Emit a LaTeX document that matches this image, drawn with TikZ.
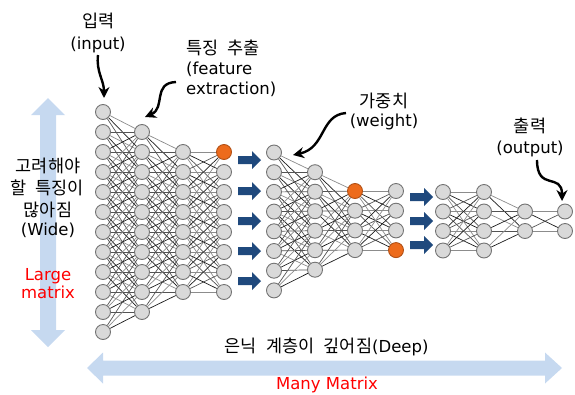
\documentclass[tikz,border=0pt]{standalone}
\usepackage{fontspec}
\setmainfont{DejaVu Sans}
\newfontfamily\kr[WordSpace=2.4]{Noto Sans CJK KR}
\usetikzlibrary{arrows.meta}
\definecolor{nodefill}{RGB}{217,217,217}
\definecolor{nodeline}{RGB}{115,115,115}
\definecolor{orng}{RGB}{237,107,28}
\definecolor{navy}{RGB}{31,73,125}
\definecolor{lightblue}{RGB}{198,217,240}
\pgfdeclarelayer{bg}
\pgfsetlayers{bg,main}
\newcommand\mklayer[6]{% name, x, y0, step, n, hot index
  \foreach \k in {1,...,#5}{%
    \ifnum\k=#6\relax\def\sty{hot}\else\def\sty{neuron}\fi
    \node[\sty] (#1\k) at (#2,{#3+#4*(\k-1)}) {};}}
\newcommand\linklayers[8]{% L, nL, y0L, sL, R, nR, y0R, sR
  \begin{pgfonlayer}{bg}
  \foreach \i in {1,...,#2}{%
    \foreach \j in {1,...,#6}{%
      \pgfmathtruncatemacro\near{abs((#3+#4*(\i-1))-(#7+#8*(\j-1)))<63 ? 1 : 0}%
      \pgfmathtruncatemacro\dk{45+22*mod(\i+2*\j,3)}%
      \ifnum\near=1 \draw[wire,draw=black!\dk] (#1\i) -- (#5\j);\fi
    }}
  \end{pgfonlayer}}
\begin{document}
\begin{tikzpicture}[x=1pt,y=-1pt,
  neuron/.style={circle,draw=nodeline,fill=nodefill,line width=0.9pt,minimum size=15pt,inner sep=0pt},
  hot/.style={neuron,fill=orng,draw=orng!75!black},
  wire/.style={line width=0.7pt},
  lbl/.style={anchor=base,inner sep=0pt,font=\fontsize{16.5}{20}\selectfont},
  klbl/.style={anchor=base,inner sep=0pt,font=\kr\fontsize{17.5}{20}\selectfont},
  callout/.style={line width=2.4pt,-{Stealth[length=11pt,width=11pt]}},
  barrow/.pic={\fill[navy] (0,-4) -- (14,-4) -- (14,-9) -- (23,0) -- (14,9) -- (14,4) -- (0,4) -- cycle;},
  ]
\useasboundingbox (0,0) rectangle (575,394);

% big light-blue arrows
\fill[lightblue] (48,98) -- (65,115) -- (56,115) -- (56,330) -- (65,330) -- (48,347)
  -- (31,330) -- (40,330) -- (40,115) -- (31,115) -- cycle;
\fill[lightblue] (87,368) -- (103,352.5) -- (103,360.5) -- (545,360.5) -- (545,352.5)
  -- (562,368) -- (545,383.5) -- (545,375.5) -- (103,375.5) -- (103,383.5) -- cycle;

% block 1
\mklayer{A}{103}{112}{20}{12}{0}
\mklayer{B}{142}{132}{20}{10}{0}
\mklayer{C}{183}{152}{20}{8}{0}
\mklayer{D}{224}{152}{20}{8}{1}
\linklayers{A}{12}{112}{20}{B}{10}{132}{20}
\linklayers{B}{10}{132}{20}{C}{8}{152}{20}
\linklayers{C}{8}{152}{20}{D}{8}{152}{20}

% block 2
\mklayer{E}{274}{152.5}{19.7}{8}{0}
\mklayer{F}{315}{172.2}{19.5}{6}{0}
\mklayer{G}{355}{191}{19.7}{4}{1}
\mklayer{H}{396}{191}{19.7}{4}{4}
\linklayers{E}{8}{152.5}{19.7}{F}{6}{172.2}{19.5}
\linklayers{F}{6}{172.2}{19.5}{G}{4}{191}{19.7}
\linklayers{G}{4}{191}{19.7}{H}{4}{191}{19.7}

% block 3
\mklayer{I}{443}{192}{19.5}{4}{0}
\mklayer{J}{484}{192}{19.5}{4}{0}
\mklayer{K}{525}{211.5}{19.5}{2}{0}
\mklayer{L}{565}{211.5}{19.5}{2}{0}
\linklayers{I}{4}{192}{19.5}{J}{4}{192}{19.5}
\linklayers{J}{4}{192}{19.5}{K}{2}{211.5}{19.5}
\linklayers{K}{2}{211.5}{19.5}{L}{2}{211.5}{19.5}

% navy arrows
\foreach \yy in {160,191,221,251,281} \pic at (238,\yy) {barrow};
\foreach \yy in {197,221,245} \pic at (410,\yy) {barrow};

% labels
\node[klbl] (inKr) at (98.5,27.5) {입력};
\node[lbl] (inEn) at (98,49) {(input)};
\node[klbl,anchor=base west] (feKr) at (186,54) {특징 추출};
\node[lbl,anchor=base west] (feEn1) at (186,74.5) {(feature};
\node[lbl,anchor=base west] (feEn2) at (186,94.5) {extraction)};
\node[klbl] (wKr) at (384,107) {가중치};
\node[lbl] (wEn) at (384,126) {(weight)};
\node[klbl] (oKr) at (530,132) {출력};
\node[lbl] (oEn) at (530,153) {(output)};
\node[klbl] (wd1) at (48,172) {고려해야};
\node[klbl] (wd2) at (47,194) {할 특징이};
\node[klbl] (wd3) at (48,216) {많아짐};
\node[lbl] (wd4) at (48,235) {(Wide)};
\node[lbl,text=red] (lg1) at (48,280.5) {Large};
\node[lbl,text=red] (lg2) at (48,298) {matrix};
\node[klbl] (deep) at (326.5,352) {은닉 계층이 깊어짐{\rmfamily\fontsize{16.5}{20}\selectfont(Deep)}};
\node[lbl,text=red] (many) at (327,389) {Many Matrix};

% callout arrows
\coordinate (c1s) at (98,55);   \coordinate (c1e) at (104,98);
\coordinate (c2s) at (176,82);  \coordinate (c2e) at (145,117);
\coordinate (c3s) at (346,113); \coordinate (c3e) at (293,155);
\coordinate (c4s) at (537,160); \coordinate (c4e) at (562,201);
\draw[callout] (c1s) .. controls (96,72) and (104,80) .. (c1e);
\draw[callout] (c2s) .. controls (152,83) and (166,108) .. (c2e);
\draw[callout] (c3s) .. controls (320,115) and (326,148) .. (c3e);
\draw[callout] (c4s) .. controls (537,192) and (562,172) .. (c4e);
\end{tikzpicture}
\end{document}
